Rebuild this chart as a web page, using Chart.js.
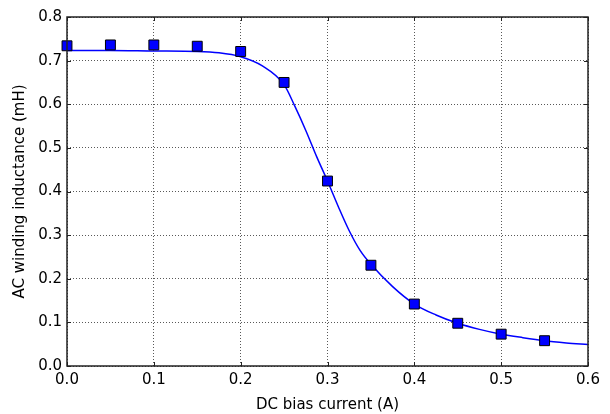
<!DOCTYPE html>
<html lang="en">
<head>
    <meta charset="UTF-8">
    <title>AC winding inductance vs DC bias</title>
    <script src="https://cdn.jsdelivr.net/npm/chart.js@4.4.1/dist/chart.umd.js"></script>
    <style>
        html, body { margin: 0; padding: 0; background: #fff; }
        .chart-container { width: 610px; height: 414px; position: relative; }
    </style>
</head>
<body>
    <div class="chart-container">
        <canvas id="chart"></canvas>
    </div>
    <script>
        // measured points (squares)
        const measCurrent = [0.0, 0.05, 0.1, 0.15, 0.2, 0.25, 0.3, 0.35, 0.4, 0.45, 0.5, 0.55];
        const measInductance = [0.734, 0.736, 0.736, 0.733, 0.721, 0.650, 0.424, 0.231, 0.142, 0.098, 0.073, 0.058];

        // fitted curve
        const fitCurrent = [0.0, 0.05, 0.1, 0.15, 0.175, 0.2, 0.225, 0.25, 0.2625, 0.275, 0.2875, 0.3, 0.3125, 0.325, 0.3375, 0.35, 0.375, 0.4, 0.425, 0.45, 0.475, 0.5, 0.525, 0.55, 0.575, 0.6];
        const fitInductance = [0.723, 0.723, 0.722, 0.721, 0.718, 0.709, 0.688, 0.645, 0.595, 0.540, 0.480, 0.424, 0.365, 0.310, 0.265, 0.233, 0.182, 0.142, 0.117, 0.098, 0.084, 0.073, 0.065, 0.058, 0.053, 0.049];

        const xTicks = [0, 0.1, 0.2, 0.3, 0.4, 0.5, 0.6];
        const yTicks = [0, 0.1, 0.2, 0.3, 0.4, 0.5, 0.6, 0.7, 0.8];

        const font = { family: 'DejaVu Sans', size: 15 };

        // frame + inward ticks like matplotlib
        const framePlugin = {
            id: 'frame',
            afterDatasetsDraw(chart) {
                const { ctx, chartArea: a, scales } = chart;
                ctx.save();
                ctx.strokeStyle = '#222';
                ctx.lineWidth = 1;
                ctx.beginPath();
                xTicks.forEach(v => {
                    const px = Math.round(scales.x.getPixelForValue(v)) + 0.5;
                    ctx.moveTo(px, a.bottom); ctx.lineTo(px, a.bottom - 4);
                    ctx.moveTo(px, a.top); ctx.lineTo(px, a.top + 4);
                });
                yTicks.forEach(v => {
                    const py = Math.round(scales.y.getPixelForValue(v)) + 0.5;
                    ctx.moveTo(a.left, py); ctx.lineTo(a.left + 4, py);
                    ctx.moveTo(a.right, py); ctx.lineTo(a.right - 4, py);
                });
                ctx.stroke();
                ctx.lineWidth = 1.5;
                ctx.strokeRect(a.left, a.top, a.right - a.left, a.bottom - a.top);
                ctx.restore();
            }
        };

        const toXY = (xs, ys) => xs.map((x, i) => ({ x: x, y: ys[i] }));

        new Chart(document.getElementById('chart').getContext('2d'), {
            type: 'scatter',
            data: {
                datasets: [{
                    label: 'Measured',
                    data: toXY(measCurrent, measInductance),
                    pointStyle: 'rect',
                    pointRadius: 7,
                    backgroundColor: '#0000ff',
                    borderColor: '#000',
                    borderWidth: 1,
                    clip: false
                }, {
                    label: 'Fit',
                    type: 'line',
                    data: toXY(fitCurrent, fitInductance),
                    borderColor: '#0000ff',
                    borderWidth: 1.5,
                    pointRadius: 0,
                    fill: false,
                    cubicInterpolationMode: 'monotone'
                }]
            },
            options: {
                responsive: true,
                maintainAspectRatio: false,
                animation: false,
                layout: { padding: { top: 17, right: 22, left: 0, bottom: 0 } },
                plugins: { legend: { display: false }, tooltip: { enabled: false } },
                scales: {
                    x: {
                        type: 'linear',
                        min: 0, max: 0.6,
                        afterBuildTicks: s => { s.ticks = xTicks.map(v => ({ value: v })); },
                        afterFit: s => { s.height = 48; },
                        ticks: { color: '#000', font: font, padding: 5, maxRotation: 0,
                                 callback: v => v.toFixed(1) },
                        grid: { color: 'rgba(0,0,0,0.65)', lineWidth: 1, drawTicks: false },
                        border: { display: false, dash: [1, 2] },
                        title: { display: true, text: 'DC bias current (A)', color: '#000', font: font,
                                 padding: { top: 3, bottom: 0 } }
                    },
                    y: {
                        min: 0, max: 0.8,
                        afterBuildTicks: s => { s.ticks = yTicks.map(v => ({ value: v })); },
                        afterFit: s => { s.width = 67; },
                        ticks: { color: '#000', font: font, padding: 5,
                                 callback: v => v.toFixed(1) },
                        grid: { color: 'rgba(0,0,0,0.65)', lineWidth: 1, drawTicks: false },
                        border: { display: false, dash: [1, 2] },
                        title: { display: true, text: 'AC winding inductance (mH)', color: '#000', font: font,
                                 padding: { top: 11, bottom: 0 } }
                    }
                }
            },
            plugins: [framePlugin]
        });
    </script>
</body>
</html>
